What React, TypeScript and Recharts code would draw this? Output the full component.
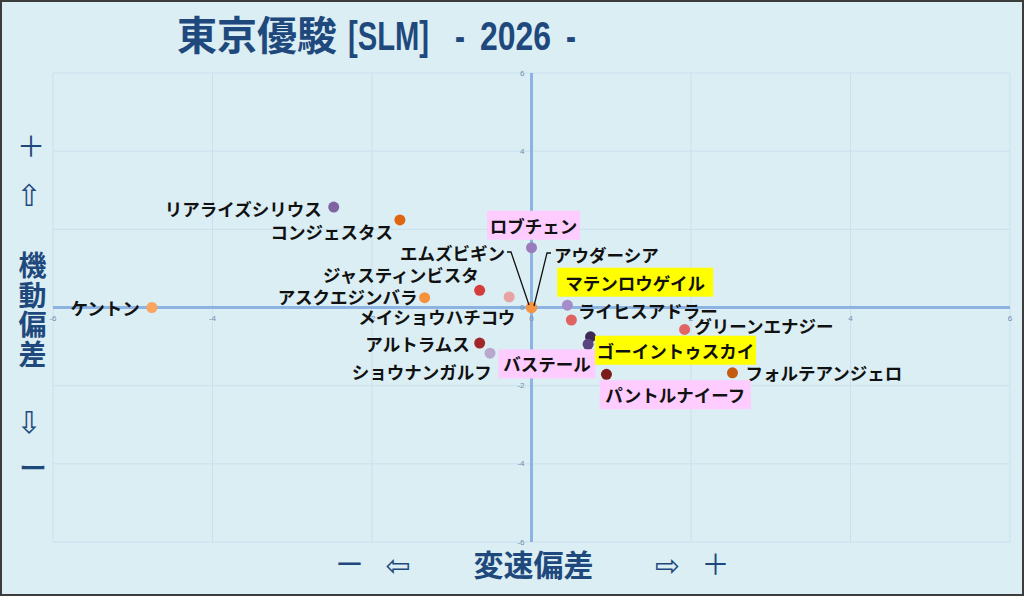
import React from "react";
import { ScatterChart, Scatter, XAxis, YAxis, CartesianGrid, ReferenceLine } from "recharts";

// ─── Data ──────────────────────────────────────────────────────────────────────
const HORSES = [
  "リアライズシリウス",
  "コンジェスタス",
  "ロブチェン",
  "エムズビギン",
  "アウダーシア",
  "ジャスティンビスタ",
  "メイショウハチコウ",
  "アスクエジンバラ",
  "ケントン",
  "ライヒスアドラー",
  "マテンロウゲイル",
  "グリーンエナジー",
  "アルトラムス",
  "ショウナンガルフ",
  "バステール",
  "ゴーイントゥスカイ",
  "パントルナイーフ",
  "フォルテアンジェロ",
];

// 変速偏差 (x)
const SPEED_DEV = [-2.48, -1.65, 0.0, 0.0, 0.0, -0.65, -0.28, -1.34, -4.76, 0.45, 0.5, 1.92, -0.65, -0.52, 0.74, 0.71, 0.94, 2.52];
// 機動偏差 (y)
const MOBILITY_DEV = [2.57, 2.24, 1.53, 0.0, 0.0, 0.44, 0.27, 0.25, 0.0, 0.06, -0.32, -0.56, -0.91, -1.17, -0.75, -0.94, -1.71, -1.67];

const AXIS_TICKS = [-6, -4, -2, 0, 2, 4, 6];

// ─── Styles ────────────────────────────────────────────────────────────────────
const DOT_COLORS = [
  "#8064a2", "#e0650f", "#9a7cbc", "#f39443", "#f39443", "#d43d3c",
  "#e8a3a3", "#f7913d", "#f9a55f", "#a68cc8", "#e06262", "#e06666",
  "#a0282a", "#b9a8cd", "#3f2a56", "#5a4580", "#7a1c1c", "#c55a11",
];

type LabelStyle = {
  anchor: "start" | "middle" | "end";
  dx: number;
  dy: number;
  box?: string;
  boxW?: number;
  leader?: number[][];
};

const PINK = "#ffccff";
const YELLOW = "#ffff00";

const LABEL_STYLES: LabelStyle[] = [
  { anchor: "end", dx: -12, dy: 1 },
  { anchor: "end", dx: -7, dy: 12 },
  { anchor: "middle", dx: 2, dy: -22.5, box: PINK, boxW: 93 },
  { anchor: "end", dx: -26.5, dy: -55.5, leader: [[-24.5, -55.5], [-20.5, -55.5], [-2.5, -2.5]] },
  { anchor: "start", dx: 22.5, dy: -53.5, leader: [[19.5, -54.5], [15.5, -54.5], [2.5, -1.5]] },
  { anchor: "end", dx: -1, dy: -16 },
  { anchor: "end", dx: 6, dy: 20 },
  { anchor: "end", dx: -7, dy: -1 },
  { anchor: "end", dx: -12, dy: 0 },
  { anchor: "start", dx: 10.5, dy: 5 },
  { anchor: "middle", dx: 63.8, dy: -37.8, box: YELLOW, boxW: 156 },
  { anchor: "start", dx: 9.7, dy: -4 },
  { anchor: "end", dx: -10, dy: 0 },
  { anchor: "end", dx: 1.7, dy: 18.7 },
  { anchor: "middle", dx: -43.6, dy: 27.1, box: PINK, boxW: 97 },
  { anchor: "middle", dx: 87.4, dy: 6, box: YELLOW, boxW: 161 },
  { anchor: "middle", dx: 68.8, dy: 20.4, box: PINK, boxW: 151 },
  { anchor: "start", dx: 13, dy: 0 },
];

const BG = "#daeef3";
const GRID = "#cbe0ee";
const ZERO_AXIS = "#8db3e2";
const TICK_COLOR = "#6f8db3";
const NAVY = "#1f497d";
const LABEL_FONT = "'Noto Sans CJK JP', 'Noto Sans', sans-serif";
const CONDENSED = "'Liberation Sans Narrow', 'Liberation Sans', sans-serif";
const ARROW_FONT = "'DejaVu Sans', 'Noto Sans CJK JP', sans-serif";

const points = HORSES.map((name, i) => ({ name, x: SPEED_DEV[i], y: MOBILITY_DEV[i], idx: i }));
const xTickPoints = AXIS_TICKS.map((v) => ({ x: v, y: 0, label: String(v) }));
const yTickPoints = AXIS_TICKS.map((v) => ({ x: 0, y: v, label: String(v) }));

const DotShape = (props: any) => {
  const { cx, cy, payload } = props;
  return <circle cx={cx} cy={cy} r={5.5} fill={DOT_COLORS[payload.idx]} />;
};

const LabelShape = (props: any) => {
  const { cx, cy, payload } = props;
  const s = LABEL_STYLES[payload.idx];
  const tx = cx + s.dx;
  const ty = cy + s.dy;
  return (
    <g>
      {s.box && (
        <rect x={tx - (s.boxW || 0) / 2} y={ty - 14.5} width={s.boxW} height={29} fill={s.box} />
      )}
      {s.leader && (
        <polyline
          points={s.leader.map(([a, b]) => `${cx + a},${cy + b}`).join(" ")}
          fill="none"
          stroke="#111"
          strokeWidth={1.3}
        />
      )}
      <text
        x={tx}
        y={ty}
        textAnchor={s.anchor}
        dominantBaseline="central"
        fontFamily={LABEL_FONT}
        fontWeight={700}
        fontSize={17.5}
        fill="#111"
      >
        {payload.name}
      </text>
    </g>
  );
};

const XTickShape = (props: any) => (
  <text x={props.cx} y={props.cy + 11} textAnchor="middle" dominantBaseline="central" fontSize={8} fontFamily="'Liberation Sans', sans-serif" fill={TICK_COLOR}>
    {props.payload.label}
  </text>
);

const YTickShape = (props: any) => (
  <text x={props.cx - 7} y={props.cy} textAnchor="end" dominantBaseline="central" fontSize={8} fontFamily="'Liberation Sans', sans-serif" fill={TICK_COLOR}>
    {props.payload.label}
  </text>
);

const Y_TITLE = ["機", "動", "偏", "差"];

export default function App() {
  return (
    <div style={{ position: "absolute", left: 0, top: 0, width: 1024, height: 596, background: BG }}>
      <ScatterChart width={1024} height={596} margin={{ top: 73, right: 14, bottom: 54, left: 53 }}>
        <CartesianGrid stroke={GRID} strokeWidth={1} />
        <XAxis type="number" dataKey="x" domain={[-6, 6]} ticks={AXIS_TICKS} hide />
        <YAxis type="number" dataKey="y" domain={[-6, 6]} ticks={AXIS_TICKS} hide />
        <ReferenceLine x={0} stroke={ZERO_AXIS} strokeWidth={3} />
        <ReferenceLine y={0} stroke={ZERO_AXIS} strokeWidth={3} />
        <Scatter data={xTickPoints} shape={XTickShape} isAnimationActive={false} />
        <Scatter data={yTickPoints} shape={YTickShape} isAnimationActive={false} />
        <Scatter data={points} shape={DotShape} isAnimationActive={false} />
        <Scatter data={points} shape={LabelShape} isAnimationActive={false} />
      </ScatterChart>

      <svg
        width={1024}
        height={596}
        style={{ position: "absolute", left: 0, top: 0, pointerEvents: "none" }}
      >
        {/* title */}
        <g fill={NAVY} fontWeight={700}>
          <text x={177} y={49.5} fontFamily={LABEL_FONT} fontSize={40}>東京優駿</text>
          <text x={348} y={49.5} fontFamily={CONDENSED} fontSize={40} textLength={81} lengthAdjust="spacingAndGlyphs">[SLM]</text>
          <text x={455} y={49.5} fontFamily={CONDENSED} fontSize={40} textLength={10} lengthAdjust="spacingAndGlyphs">-</text>
          <text x={480} y={49.5} fontFamily={CONDENSED} fontSize={40} textLength={71} lengthAdjust="spacingAndGlyphs">2026</text>
          <text x={566} y={49.5} fontFamily={CONDENSED} fontSize={40} textLength={10} lengthAdjust="spacingAndGlyphs">-</text>
        </g>

        {/* y axis title */}
        <g fill={NAVY} textAnchor="middle" dominantBaseline="central">
          <text x={31} y={145} fontFamily={LABEL_FONT} fontSize={28}>＋</text>
          <text x={29} y={195} fontFamily={ARROW_FONT} fontSize={30}>⇧</text>
          {Y_TITLE.map((c, i) => (
            <text key={c} x={32.5} y={264 + i * 29.5} fontFamily={LABEL_FONT} fontSize={28} fontWeight={700}>
              {c}
            </text>
          ))}
          <text x={29} y={422} fontFamily={ARROW_FONT} fontSize={30}>⇩</text>
          <text x={33} y={467} fontFamily={LABEL_FONT} fontSize={28} fontWeight={500}>ー</text>
        </g>

        {/* x axis title */}
        <g fill={NAVY} textAnchor="middle" dominantBaseline="central">
          <text x={349.5} y={563} fontFamily={LABEL_FONT} fontSize={28} fontWeight={400}>ー</text>
          <text x={398} y={565} fontFamily={ARROW_FONT} fontSize={30}>⇦</text>
          <text x={533.5} y={563} fontFamily={LABEL_FONT} fontSize={30} fontWeight={700}>変速偏差</text>
          <text x={667.5} y={565} fontFamily={ARROW_FONT} fontSize={30}>⇨</text>
          <text x={715.5} y={563} fontFamily={LABEL_FONT} fontSize={28}>＋</text>
        </g>
      </svg>

      <div
        style={{
          position: "absolute",
          left: 0,
          top: 0,
          width: 1024,
          height: 596,
          boxSizing: "border-box",
          border: "2px solid #3c3c3c",
          pointerEvents: "none",
        }}
      />
    </div>
  );
}
